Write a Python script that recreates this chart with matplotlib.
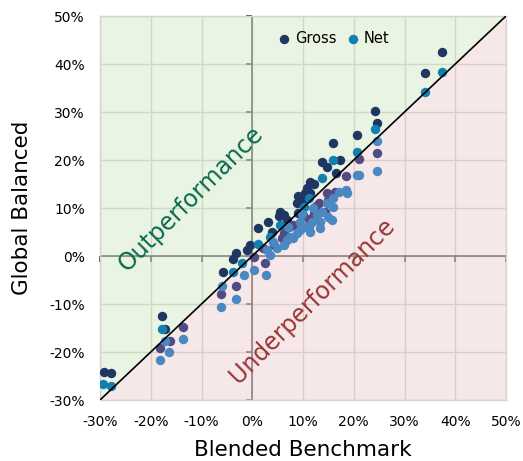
import numpy as np
import matplotlib
matplotlib.use('Agg')
import matplotlib.pyplot as plt
from matplotlib.ticker import FuncFormatter

# Gross returns (benchmark x, fund y), in %
gross_x = np.array([-29.3, -27.8, -17.7, -17.1, -13.7, -16.2, -18.1, -5.8, -6.2, -3.7, -3.3, -3.2, -1.0, -0.5, 2.6,
                    0.3, 1.2, 3.2, 3.9, 5.5, 6.2, 5.2, 6.8, 8.8, 9.1, 9.8, 10.4, 11.4, 10.8, 11.4, 12.1, 13.7, 14.7,
                    16.0, 17.2, 16.5, 20.6, 24.2, 24.6, 34.0, 37.4, 21.1, 24.6, 18.5, 16.4, 14.7, 15.0, 13.1, 12.1,
                    14.4, 11.1, 8.1, 6.2, 5.9, 4.2, 2.2, 9.0, 7.2, 10.0, 12.6])
gross_y = np.array([-24.1, -24.4, -12.4, -15.3, -14.7, -17.7, -19.2, -3.3, -7.9, -0.7, 0.6, -6.2, 1.2, 2.3, -1.4,
                    -0.3, 5.8, 7.1, 5.1, 9.2, 8.5, 8.4, 7.5, 11.0, 12.4, 11.5, 13.1, 13.1, 14.1, 15.5, 15.1, 19.6, 18.6,
                    23.6, 19.9, 17.2, 25.2, 30.2, 27.8, 38.1, 42.4, 20.3, 21.4, 16.7, 13.4, 13.1, 11.7, 11.0, 8.9,
                    9.2, 7.8, 6.5, 4.7, 3.7, 2.3, 1.6, 9.0, 6.0, 8.5, 10.5])

# Net returns
net_x = np.array([-29.4, -27.8, -17.7, -17.1, -13.7, -16.4, -18.1, -6.0, -6.2, -3.7, -1.7, -3.2, 0.3, 2.8, -2.0,
                  1.2, 3.5, 2.9, 3.5, 4.9, 6.2, 5.5, 6.8, 8.1, 7.5, 8.8, 9.5, 9.5, 10.1, 11.1, 11.4, 11.8, 13.4,
                  13.4, 12.7, 15.0, 15.7, 13.7, 14.7, 16.0, 16.0, 17.0, 18.7, 10.1, 11.1, 13.7, 16.0, 20.6, 20.6,
                  24.2, 24.6, 24.6, 34.0, 37.4, 21.1, 18.5, 12.0, 7.0, 4.0, 9.8])
net_y = np.array([-26.7, -27.0, -15.3, -17.7, -17.2, -20.1, -21.7, -6.2, -10.7, -3.3, -4.0, -9.0, -2.9, -4.0, -1.5,
                  2.6, 4.0, 1.2, 0.2, 1.6, 2.3, 6.5, 3.3, 3.7, 4.0, 4.7, 5.4, 7.1, 6.1, 6.1, 5.1, 7.1, 7.1,
                  5.8, 8.5, 8.2, 7.5, 9.2, 11.0, 10.3, 12.0, 13.4, 13.1, 10.3, 12.0, 16.2, 19.9, 21.7, 16.9,
                  26.4, 24.0, 17.8, 34.2, 38.4, 16.9, 13.7, 10.0, 6.0, 3.0, 8.8])

ticks = np.arange(-30, 51, 10)
lo, hi = -30, 50

plt.rcParams['font.family'] = 'DejaVu Sans'

fig = plt.figure(figsize=(5.23, 4.61), dpi=100)
ax = fig.add_axes([100/523, 1 - 400/461, 406/523, 384/461])
ax.set_xlim(lo, hi)
ax.set_ylim(lo, hi)

# shaded halves
ax.fill([lo, lo, hi], [lo, hi, hi], color='#d6eac8', alpha=0.5, lw=0, zorder=1.5)
ax.fill([lo, hi, hi], [lo, lo, hi], color='#efd3d3', alpha=0.5, lw=0, zorder=1.5)

# grid
ax.set_xticks(ticks)
ax.set_yticks(ticks)
ax.grid(True, color='#c8c8c8', lw=1.0, zorder=1)
ax.set_axisbelow(True)
for s in ax.spines.values():
    s.set_color('#d4d4d4')
    s.set_linewidth(1.0)
ax.tick_params(length=0, labelsize=10, pad=11)
pct = FuncFormatter(lambda v, p: f'{v:.0f}%')
ax.xaxis.set_major_formatter(pct)
ax.yaxis.set_major_formatter(pct)

# axis lines through zero
ax.plot([lo, hi], [0, 0], color='#333333', lw=1.2, zorder=1.2)
ax.plot([0, 0], [lo, hi], color='#333333', lw=1.2, zorder=1.2)
ax.plot(ticks, np.zeros_like(ticks), ls='none', marker=3, ms=4, mew=1.2, color='#333333', zorder=1.2, clip_on=False)
ax.plot(np.zeros_like(ticks), ticks, ls='none', marker=0, ms=4, mew=1.2, color='#333333', zorder=1.2, clip_on=False)

# points
g_up = gross_y >= gross_x
n_up = net_y >= net_x
ms = 46
ax.scatter(gross_x[g_up], gross_y[g_up], s=ms, color='#1e3661', lw=0, zorder=3, label='Gross')
ax.scatter(gross_x[~g_up], gross_y[~g_up], s=ms, color='#504b80', lw=0, zorder=3)
ax.scatter(net_x[n_up], net_y[n_up], s=ms, color='#137fb1', lw=0, zorder=3.1, label='Net')
ax.scatter(net_x[~n_up], net_y[~n_up], s=ms, color='#4a88c2', lw=0, zorder=3.1)

# diagonal
ax.plot([lo, hi], [lo, hi], color='black', lw=1.2, zorder=4)

ax.text(-12.0, 11.9, 'Outperformance', rotation=45, fontsize=17, color='#0b6a4e',
        ha='center', va='center', rotation_mode='anchor', zorder=5)
ax.text(11.9, -9.4, 'Underperformance', rotation=45, fontsize=17, color='#9a3535',
        ha='center', va='center', rotation_mode='anchor', zorder=5)

ax.set_xlabel('Blended Benchmark', fontsize=15.5, labelpad=8)
ax.set_ylabel('Global Balanced', fontsize=15.5, labelpad=12)

leg = ax.legend(loc='center', bbox_to_anchor=(0.574, 0.941), ncol=2, frameon=False,
                handlelength=1.0, handletextpad=0.25, columnspacing=0.6, borderpad=0.2,
                prop={'size': 10.5})
leg.set_zorder(6)

fig.savefig('out.png', dpi=100)
